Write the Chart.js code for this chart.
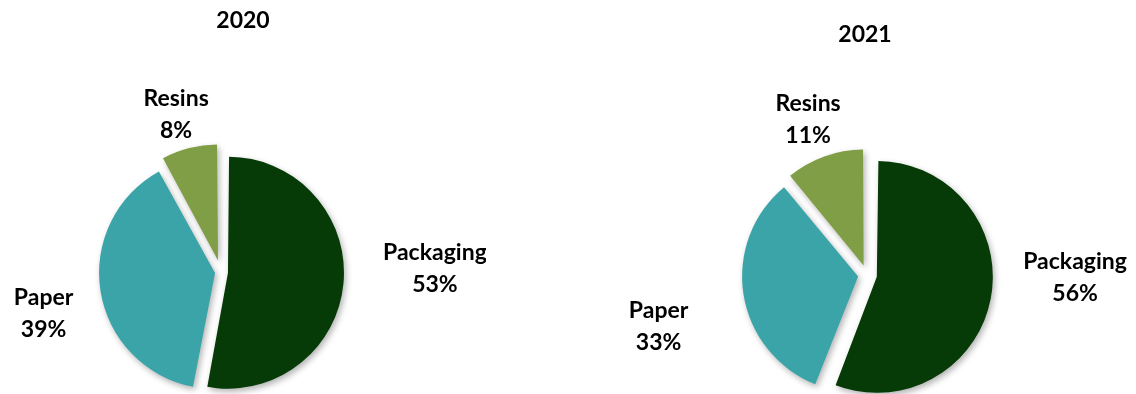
<!DOCTYPE html>
<html lang="en">
<head>
<meta charset="UTF-8">
<title>Revenue mix 2020 / 2021</title>
<script src="https://cdn.jsdelivr.net/npm/chart.js@4.4.1/dist/chart.umd.min.js"></script>
<style>
    html, body { margin: 0; padding: 0; background: #fff; }
    body { width: 1136px; height: 394px; position: relative; overflow: hidden; }
    canvas { position: absolute; top: 0; }
    #chart2020 { left: 0; }
    #chart2021 { left: 594px; }
</style>
</head>
<body>
<canvas id="chart2020" width="486" height="394"></canvas>
<canvas id="chart2021" width="542" height="394"></canvas>
<script>
// Data
const categories = ['Packaging', 'Paper', 'Resins'];
const years = ['2020', '2021'];
const share2020 = [53, 39, 8];
const share2021 = [56, 33, 11];

// Look
const sliceColors = ['#063a06', '#3aa4a8', '#7f9e45'];
const FONT = 'bold 23px Lato, "Open Sans", sans-serif';
const PIE_RADIUS = 116;
const LINE_HEIGHT = 32;
const CAP_HEIGHT = 17;
const LABEL_GAP = 36;

// Per-chart layout: explode distance of each slice (px) and label nudges
const layout2020 = {
    titleY: 28,
    padding: { left: 0, right: 44, top: 150, bottom: 0 },
    explode: [7, 6, 12],
    nudges: [[4, -22], [8, 12], [4, 24]]
};
const layout2021 = {
    titleY: 42,
    padding: { left: 4, right: 0, top: 156, bottom: 0 },
    explode: [10, 9, 10],
    nudges: [[-2, -33], [-20, 21], [7, 19]]
};

// Soft drop shadow under the slices, and keep every slice at the same radius
// (Chart.js grows the radius of offset arcs a little)
const shadowPlugin = {
    id: 'sliceShadow',
    beforeDatasetsDraw(chart) {
        const meta = chart.getDatasetMeta(0);
        meta.data.forEach(arc => {
            const off = (arc.options.offset || 0) / 4;
            const fix = 1 - Math.sin(Math.min(Math.PI, arc.circumference));
            arc.outerRadius = PIE_RADIUS - off * fix;
        });
        const ctx = chart.ctx;
        ctx.save();
        ctx.shadowColor = 'rgba(0, 0, 0, 0.3)';
        ctx.shadowBlur = 6;
        ctx.shadowOffsetX = 2;
        ctx.shadowOffsetY = 3;
    },
    afterDatasetsDraw(chart) {
        chart.ctx.restore();
    }
};

function makeLabelPlugin(title, cfg) {
    return {
        id: 'sliceLabels',
        afterDraw(chart) {
            const ctx = chart.ctx;
            const meta = chart.getDatasetMeta(0);
            const values = chart.data.datasets[0].data;

            ctx.save();
            ctx.font = FONT;
            ctx.fillStyle = '#000';
            ctx.textAlign = 'center';
            ctx.textBaseline = 'alphabetic';

            // Year title
            ctx.fillText(title, chart.width / 2, cfg.titleY);

            // Category + percentage outside each slice
            meta.data.forEach((arc, i) => {
                const p = arc.getProps(['x', 'y', 'startAngle', 'endAngle'], true);
                const mid = (p.startAngle + p.endAngle) / 2;
                const dx = Math.cos(mid);
                const dy = Math.sin(mid);
                const push = PIE_RADIUS + cfg.explode[i] + LABEL_GAP;
                const lines = [chart.data.labels[i], values[i] + '%'];
                const w = Math.max(...lines.map(t => ctx.measureText(t).width));
                const h = LINE_HEIGHT + CAP_HEIGHT;
                const cx = p.x + dx * (push + w / 2) + cfg.nudges[i][0];
                const cy = p.y + dy * push + dy * h / 2 + cfg.nudges[i][1];
                ctx.fillText(lines[0], cx, cy - LINE_HEIGHT / 2 + CAP_HEIGHT / 2);
                ctx.fillText(lines[1], cx, cy + LINE_HEIGHT / 2 + CAP_HEIGHT / 2);
            });
            ctx.restore();
        }
    };
}

function buildPie(canvasId, title, values, cfg) {
    const ctx = document.getElementById(canvasId).getContext('2d');
    return new Chart(ctx, {
        type: 'pie',
        data: {
            labels: categories,
            datasets: [{
                data: values,
                backgroundColor: sliceColors,
                borderWidth: 0,
                offset: cfg.explode.map(d => d * 4),
                clip: false
            }]
        },
        options: {
            responsive: false,
            animation: false,
            events: [],
            radius: PIE_RADIUS,
            layout: { padding: cfg.padding },
            plugins: {
                legend: { display: false },
                tooltip: { enabled: false },
                title: { display: false }
            }
        },
        plugins: [shadowPlugin, makeLabelPlugin(title, cfg)]
    });
}

document.addEventListener('DOMContentLoaded', function() {
    buildPie('chart2020', years[0], share2020, layout2020);
    buildPie('chart2021', years[1], share2021, layout2021);
});
</script>
</body>
</html>
